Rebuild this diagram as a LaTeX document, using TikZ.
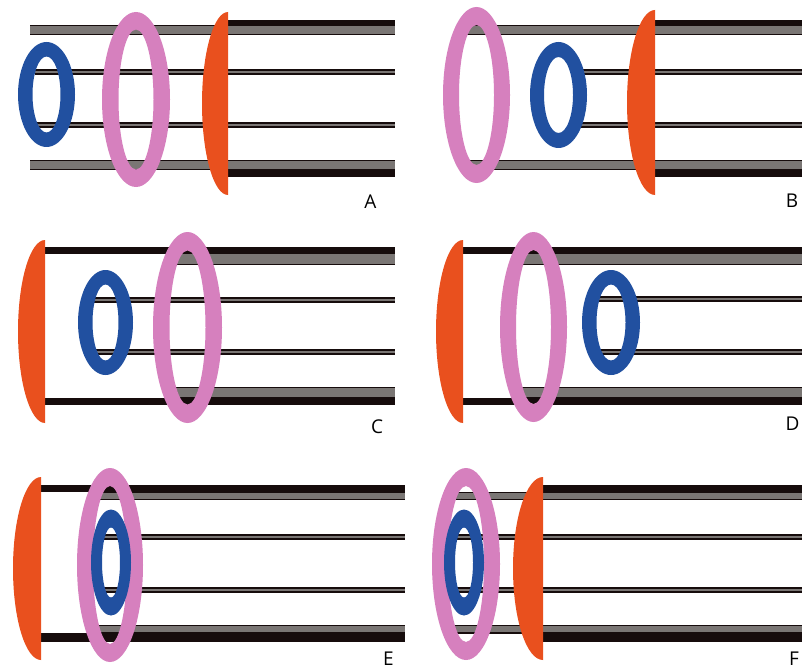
\documentclass[tikz,border=0pt]{standalone}
\usepackage{fontspec}
\setmainfont{Open Sans}

\definecolor{lensorange}{RGB}{233,80,30}
\definecolor{ringpink}{RGB}{214,128,190}
\definecolor{ringblue}{RGB}{33,80,160}
\definecolor{raygray}{RGB}{122,118,116}
\definecolor{raydark}{RGB}{22,12,12}

\tikzset{
  pinkring/.style={fill=ringpink,even odd rule},
  bluering/.style={fill=ringblue,even odd rule},
  paneltag/.style={font=\fontsize{19}{19}\selectfont,anchor=base,inner sep=0pt},
}

\newcommand{\rayband}[4]{\fill[raydark] (#1,#3) rectangle (#2,#4);}
\newcommand{\raystrip}[4]{\fill[raydark] (#1,#3) rectangle (#2,#4);
  \fill[raygray] (#1,#3+1.3) rectangle (#2,#4-1.3);}
\newcommand{\thinray}[3]{\fill[raydark] (#1,#3-3) rectangle (#2,#3+3);
  \fill[raygray] (#1,#3-1) rectangle (#2,#3+1);}
\newcommand{\lensat}[4]{\fill[lensorange] (#1,#2)
  arc[start angle=270,end angle=90,x radius=#4,y radius={(#3-#2)/2}] -- cycle;}
\newcommand{\ringat}[7]{\fill[#1] (#2,#3) ellipse[x radius=#4,y radius=#5]
  (#2,#3) ellipse[x radius=#6,y radius=#7];}

\begin{document}
\begin{tikzpicture}[x=1pt,y=-1pt]
\fill[white] (0,0) rectangle (802,671);
\useasboundingbox (0,0) rectangle (802,671);

\rayband{228}{395}{20}{27}
\raystrip{30}{395}{25}{35}
\rayband{228}{395}{169}{177}
\raystrip{30}{395}{160}{170}
\thinray{35}{395}{72.5}
\thinray{37}{395}{125}
\lensat{228}{12}{195}{26}
\ringat{pinkring}{136}{99.5}{34}{87.5}{17.5}{70}
\ringat{bluering}{46.5}{94.5}{28.5}{52.5}{14}{38}
\node[paneltag] (tagA) at (370.5,208) {A};

\rayband{655}{802}{20}{27}
\raystrip{462}{802}{25}{35}
\rayband{655}{802}{169}{177}
\raystrip{462}{802}{160}{170}
\thinray{575}{802}{72}
\thinray{575}{802}{125}
\lensat{655}{10}{195}{28}
\ringat{pinkring}{476.5}{95}{33.5}{88}{17.5}{70}
\ringat{bluering}{558.5}{95}{28.5}{53}{14.5}{38}
\node[paneltag] (tagB) at (792,207) {B};

\rayband{45}{395}{247}{253.5}
\raystrip{175}{395}{253}{265}
\rayband{45}{395}{398}{405}
\raystrip{175}{395}{387}{398.5}
\thinray{88}{395}{300}
\thinray{88}{395}{352}
\lensat{45}{240}{423}{27}
\ringat{bluering}{105.5}{322.5}{27.5}{52.5}{13}{38}
\ringat{pinkring}{187.5}{327.5}{34.5}{95.5}{18}{77}
\node[paneltag] (tagC) at (377,433) {C};

\rayband{463}{802}{247}{253.5}
\raystrip{520}{802}{253}{265}
\rayband{463}{802}{398}{405}
\raystrip{520}{802}{387}{398.5}
\thinray{596}{802}{298.5}
\thinray{596}{802}{352}
\lensat{463}{240}{423}{27}
\ringat{pinkring}{533.5}{327}{33.5}{95}{17.5}{77}
\ringat{bluering}{611}{322.5}{29}{52.5}{14.5}{38}
\node[paneltag] (tagD) at (792.5,430) {D};

\rayband{41}{405}{485}{492}
\raystrip{98}{405}{491.5}{500}
\rayband{41}{405}{633}{642}
\raystrip{98}{405}{625}{633.5}
\thinray{98}{405}{537}
\thinray{98}{405}{590}
\lensat{41}{477}{660}{28}
\ringat{pinkring}{110}{565}{33}{97}{17}{79}
\ringat{bluering}{111}{562.5}{20}{53}{9}{35}
\node[paneltag] (tagE) at (388.5,665) {E};

\rayband{543}{802}{485}{492}
\raystrip{453}{802}{491.5}{500}
\rayband{543}{802}{633}{642}
\raystrip{453}{802}{625}{633.5}
\thinray{453}{802}{537}
\thinray{453}{802}{590}
\lensat{543}{477}{660}{30}
\ringat{pinkring}{466}{564}{34}{96}{18}{78}
\ringat{bluering}{464}{562.5}{20}{53}{9}{35}
\node[paneltag] (tagF) at (794,665) {F};
\end{tikzpicture}
\end{document}
